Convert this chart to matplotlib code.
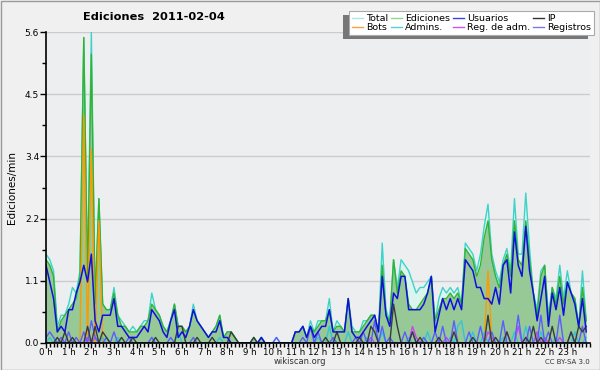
import matplotlib
matplotlib.use("Agg")
import matplotlib.pyplot as plt
import numpy as np
from matplotlib.patches import Rectangle
from matplotlib.ticker import MultipleLocator, FixedLocator

# edits per minute, one value per 10 minutes (144 slots), 4 hours per row
total = [
    1.6, 1.5, 1.3, 0.3, 0.5, 0.5, 0.7, 1.0, 0.9, 1.3, 5.5, 1.2, 5.6, 0.8, 2.6, 0.7, 0.6, 0.6, 1.0, 0.5, 0.4, 0.3, 0.2, 0.3,
    0.2, 0.3, 0.4, 0.4, 0.9, 0.6, 0.5, 0.3, 0.2, 0.4, 0.7, 0.3, 0.3, 0.2, 0.3, 0.7, 0.4, 0.3, 0.2, 0.1, 0.2, 0.3, 0.5, 0.1,
    0.2, 0.2, 0.1, 0, 0, 0, 0, 0.1, 0, 0.1, 0, 0, 0, 0.1, 0, 0, 0, 0, 0.2, 0.2, 0.3, 0.1, 0.4, 0.2,
    0.4, 0.4, 0.4, 0.8, 0.2, 0.4, 0.3, 0.2, 0.8, 0.3, 0.2, 0.2, 0.4, 0.4, 0.5, 0.5, 0.2, 1.8, 0.6, 0.4, 1.5, 1.0, 1.5, 1.4,
    1.3, 1.1, 0.9, 1.0, 1.0, 1.1, 1.2, 0.4, 0.8, 1.0, 0.9, 1.0, 0.9, 1.0, 0.7, 1.8, 1.7, 1.6, 1.3, 1.6, 2.1, 2.5, 1.6, 1.3,
    1.1, 1.5, 1.7, 1.3, 2.6, 1.6, 1.6, 2.7, 1.7, 0.9, 0.6, 1.3, 1.4, 0.5, 1.0, 0.8, 1.4, 0.8, 1.3, 0.9, 0.8, 0.3, 1.3, 0.4,
]
ediciones = [
    1.5, 1.4, 1.2, 0.2, 0.4, 0.5, 0.6, 0.7, 0.8, 1.2, 5.5, 1.1, 5.2, 0.7, 2.6, 0.7, 0.6, 0.6, 0.9, 0.5, 0.3, 0.3, 0.2, 0.2,
    0.2, 0.3, 0.3, 0.4, 0.7, 0.6, 0.5, 0.3, 0.2, 0.4, 0.7, 0.3, 0.3, 0.2, 0.3, 0.6, 0.4, 0.3, 0.2, 0.1, 0.2, 0.3, 0.5, 0.1,
    0.2, 0.2, 0.1, 0, 0, 0, 0, 0.1, 0, 0.1, 0, 0, 0, 0, 0, 0, 0, 0, 0.2, 0.2, 0.3, 0.1, 0.3, 0.2,
    0.3, 0.4, 0.4, 0.6, 0.2, 0.3, 0.3, 0.2, 0.8, 0.2, 0.2, 0.2, 0.3, 0.4, 0.5, 0.5, 0.2, 1.4, 0.5, 0.4, 1.5, 0.9, 1.3, 1.2,
    0.7, 0.6, 0.6, 0.7, 0.8, 0.9, 1.2, 0.4, 0.6, 0.8, 0.8, 0.9, 0.8, 0.9, 0.7, 1.7, 1.6, 1.5, 1.2, 1.4, 1.9, 2.2, 1.5, 1.2,
    1.0, 1.4, 1.6, 1.2, 2.2, 1.5, 1.4, 2.2, 1.5, 0.9, 0.5, 1.2, 1.4, 0.4, 1.0, 0.7, 1.2, 0.7, 1.1, 0.9, 0.8, 0.3, 1.0, 0.4,
]
usuarios = [
    1.4, 1.1, 0.8, 0.2, 0.3, 0.2, 0.6, 0.6, 0.9, 1.1, 1.4, 1.1, 1.6, 0.4, 0.2, 0.5, 0.5, 0.5, 0.8, 0.3, 0.3, 0.2, 0.1, 0.1,
    0.1, 0.2, 0.3, 0.2, 0.6, 0.5, 0.4, 0.2, 0.1, 0.4, 0.6, 0.1, 0.2, 0.1, 0.3, 0.6, 0.4, 0.3, 0.2, 0.1, 0.2, 0.2, 0.4, 0.1,
    0.1, 0, 0, 0, 0, 0, 0, 0, 0, 0.1, 0, 0, 0, 0, 0, 0, 0, 0, 0.2, 0.2, 0.3, 0.1, 0.3, 0.1,
    0.2, 0.3, 0.3, 0.6, 0.2, 0.2, 0.2, 0.2, 0.8, 0.2, 0.1, 0.1, 0.2, 0.3, 0.4, 0.5, 0.2, 1.2, 0.5, 0.3, 0.9, 0.8, 1.2, 1.2,
    0.6, 0.6, 0.6, 0.6, 0.7, 0.9, 1.2, 0.2, 0.5, 0.8, 0.6, 0.8, 0.6, 0.8, 0.6, 1.5, 1.4, 1.3, 1.0, 1.0, 0.8, 0.8, 0.7, 1.0,
    0.7, 1.4, 1.5, 0.9, 2.0, 1.4, 1.2, 2.1, 1.3, 0.9, 0.4, 0.8, 1.2, 0.3, 0.9, 0.6, 1.0, 0.5, 1.1, 0.9, 0.7, 0.3, 0.8, 0.2,
]
ip = [
    0, 0, 0, 0.1, 0, 0.2, 0, 0.1, 0, 0, 0, 0.3, 0, 0.3, 0, 0.2, 0.1, 0, 0, 0, 0.1, 0, 0, 0.1,
    0, 0, 0, 0, 0, 0.1, 0, 0, 0, 0, 0, 0.3, 0.3, 0, 0, 0, 0.1, 0, 0, 0, 0.1, 0, 0, 0,
    0, 0.2, 0.1, 0, 0, 0, 0, 0.1, 0, 0, 0, 0, 0, 0, 0, 0, 0, 0, 0, 0, 0, 0, 0, 0,
    0, 0, 0.1, 0, 0, 0.2, 0, 0, 0, 0, 0, 0.1, 0, 0, 0.3, 0.2, 0, 0, 0, 0, 0.7, 0.3, 0, 0,
    0, 0.2, 0, 0.1, 0, 0, 0, 0, 0.1, 0, 0, 0, 0.2, 0, 0, 0, 0, 0.1, 0, 0, 0, 0.5, 0, 0.1,
    0, 0, 0.2, 0, 0, 0, 0, 0.1, 0, 0.3, 0, 0.1, 0, 0, 0.3, 0, 0, 0, 0, 0.2, 0, 0.3, 0.2, 0.3,
]
bots = [
    0, 0, 0, 0, 0, 0, 0, 0, 0, 0, 4.1, 0, 3.5, 0, 2.2, 0, 0, 0, 0, 0, 0, 0, 0, 0,
    0, 0, 0, 0, 0, 0, 0, 0, 0, 0, 0, 0, 0, 0, 0, 0, 0, 0, 0, 0, 0, 0, 0, 0,
    0, 0, 0, 0, 0, 0, 0, 0, 0, 0, 0, 0, 0, 0, 0, 0, 0, 0, 0, 0, 0, 0, 0, 0,
    0, 0, 0, 0, 0, 0, 0, 0, 0, 0, 0, 0, 0, 0, 0, 0, 0, 0, 0, 0, 0, 0, 0, 0,
    0, 0, 0, 0, 0, 0, 0, 0, 0, 0, 0, 0, 0, 0, 0, 0, 0, 0, 0, 0, 0, 1.3, 0, 0,
    0, 0, 0, 0, 0, 0, 0, 0, 0, 0, 0, 0, 0, 0, 0, 0, 0, 0, 0, 0, 0, 0, 0, 0,
]
admins = [
    0, 0.1, 0, 0, 0, 0, 0, 0, 0, 0, 0, 0, 0, 0.1, 0, 0.1, 0, 0, 0, 0.1, 0, 0, 0, 0,
    0, 0, 0, 0, 0.1, 0, 0, 0, 0, 0, 0, 0.2, 0, 0, 0, 0, 0, 0, 0, 0, 0, 0, 0.1, 0,
    0, 0, 0, 0, 0, 0, 0, 0, 0, 0, 0, 0, 0, 0, 0, 0, 0, 0, 0, 0, 0, 0, 0, 0,
    0.1, 0, 0, 0.3, 0, 0, 0, 0, 0.2, 0, 0, 0, 0, 0.1, 0, 0, 0, 0.2, 0, 0, 0, 0, 0, 0,
    0.1, 0, 0, 0, 0, 0.2, 0, 0, 0, 0, 0, 0.1, 0, 0.3, 0.4, 0, 0, 0.2, 0, 0, 0.2, 0, 0, 0,
    0, 0.1, 0, 0, 0.2, 0, 0, 0.3, 0, 0, 0, 0.2, 0, 0, 0, 0.1, 0, 0, 0, 0, 0.2, 0, 0, 0.1,
]
reg_adm = [
    0, 0, 0, 0, 0, 0, 0, 0, 0, 0, 0, 0.1, 0, 0.1, 0, 0, 0, 0, 0, 0, 0, 0, 0, 0,
    0, 0, 0, 0, 0, 0, 0, 0, 0, 0, 0, 0, 0, 0, 0, 0, 0, 0, 0, 0, 0, 0, 0, 0,
    0, 0, 0, 0, 0, 0, 0, 0, 0, 0, 0, 0, 0, 0, 0, 0, 0, 0, 0, 0, 0, 0, 0, 0,
    0, 0, 0, 0, 0, 0, 0, 0, 0, 0, 0, 0, 0, 0, 0.1, 0, 0, 0, 0, 0, 0, 0, 0, 0,
    0, 0.3, 0.1, 0, 0, 0, 0, 0, 0, 0, 0.1, 0, 0, 0, 0, 0, 0, 0, 0, 0, 0, 0.2, 0.1, 0,
    0, 0, 0.2, 0, 0, 0.3, 0, 0.1, 0, 0, 0.2, 0, 0.1, 0, 0, 0, 0.1, 0, 0, 0, 0, 0, 0, 0,
]
registros = [
    0.1, 0.2, 0.1, 0, 0.1, 0, 0.2, 0, 0.1, 0, 0.2, 0, 0.4, 0.1, 0, 0, 0.1, 0, 0.2, 0, 0, 0, 0.1, 0,
    0, 0, 0, 0, 0.1, 0, 0, 0, 0, 0.1, 0, 0, 0, 0, 0, 0.1, 0, 0, 0, 0, 0, 0, 0, 0,
    0, 0, 0, 0, 0, 0, 0, 0, 0, 0, 0, 0, 0, 0.1, 0, 0, 0, 0, 0, 0, 0.1, 0, 0.3, 0,
    0.2, 0, 0, 0, 0.1, 0, 0, 0, 0, 0, 0.1, 0, 0.2, 0, 0, 0.4, 0, 0.3, 0, 0.1, 0, 0, 0, 0.2,
    0, 0.2, 0, 0, 0.1, 0, 0, 0.2, 0, 0.3, 0, 0, 0.4, 0, 0, 0, 0.2, 0, 0, 0.3, 0, 0, 0.2, 0,
    0, 0.4, 0, 0, 0, 0.5, 0, 0, 0.3, 0, 0, 0.5, 0, 0.2, 0, 0, 0.5, 0, 0, 0.2, 0, 0, 0.3, 0,
]
hour_labels = [f"{h} h" for h in range(24)]
ytick_values = [0, 1.12, 2.24, 3.36, 4.48, 5.6]
ytick_labels = ["0.0", "1.1", "2.2", "3.4", "4.5", "5.6"]

x = np.arange(len(total)) / 6.0

fig = plt.figure(figsize=(6, 3.7), dpi=100, facecolor="#f0f0f0")
ax = fig.add_axes([46 / 600, 27 / 370, 544 / 600, 311 / 370])
ax.set_facecolor("#edeef0")

ax.fill_between(x, total, color="#dcf4ee", lw=0)
ax.plot(x, total, color="#3dd3c8", lw=1)
ax.fill_between(x, ediciones, color="#96c996", lw=0)
ax.plot(x, ediciones, color="#33b333", lw=1)
ax.plot(x, bots, color="#ff9900", lw=1)
ax.plot(x, admins, color="#33c4d8", lw=1)
ax.plot(x, reg_adm, color="#c844f0", lw=1)
ax.plot(x, registros, color="#5c5cff", lw=1)
ax.plot(x, ip, color="#3a3a3a", lw=1)
ax.plot(x, usuarios, color="#1010dd", lw=1.1)

ax.set_xlim(0, 24)
ax.set_ylim(0, 5.6)
ax.yaxis.set_major_locator(FixedLocator(ytick_values))
ax.set_yticklabels(ytick_labels)
ax.yaxis.set_minor_locator(MultipleLocator(0.56))
ax.xaxis.set_major_locator(FixedLocator(range(24)))
ax.set_xticklabels(hour_labels)
ax.xaxis.set_minor_locator(MultipleLocator(1 / 6))
ax.tick_params(axis="x", which="major", length=3.5, width=1, pad=0, labelsize=6.2, color="black")
ax.tick_params(axis="x", which="minor", length=3, width=1, color="black")
ax.tick_params(axis="y", which="major", length=4, width=1, pad=1, labelsize=6.5)
ax.tick_params(axis="y", which="minor", length=3, width=1)
ax.grid(axis="y", color="#cccccc", lw=1)
ax.set_axisbelow(True)
for side in ["top", "right"]:
    ax.spines[side].set_visible(False)
ax.spines["left"].set_linewidth(1.2)
ax.spines["bottom"].set_linewidth(1.2)

fig.text(12 / 600, 1 - 188 / 370, "Ediciones/min", rotation=90, va="center", ha="center", fontsize=7.5)
fig.text(154 / 600, 1 - 17 / 370, "Ediciones  2011-02-04", ha="center", va="center",
         fontsize=8.2, fontweight="bold")
fig.text(300 / 600, 1 - 362 / 370, "wikiscan.org", ha="center", va="center", fontsize=6, color="#333333")
fig.text(590 / 600, 1 - 362 / 370, "CC BY-SA 3.0", ha="right", va="center", fontsize=5, color="#333333")

# legend, with its shadow to the lower left
names = ["Total", "Bots", "Ediciones", "Admins.", "Usuarios", "Reg. de adm.", "IP", "Registros"]
colors = ["#a8e8e2", "#ffa040", "#8fd88f", "#55cde0", "#4040e8", "#cc55ee", "#333333", "#7777ee"]
handles = [plt.Line2D([], [], color=c, lw=1) for c in colors]
leg = fig.legend(handles, names, ncol=4, loc="upper right",
                 bbox_to_anchor=(594 / 600, 1 - 11 / 370),
                 fontsize=6.8, frameon=True, fancybox=False, handlelength=1.1, handletextpad=0.35,
                 columnspacing=0.35, labelspacing=0.05, borderpad=0.3, borderaxespad=0)
leg.get_frame().set_facecolor("white")
leg.get_frame().set_edgecolor("#aaaaaa")
leg.get_frame().set_linewidth(0.8)
leg.get_frame().set_alpha(1)

fig.canvas.draw()
bb = leg.get_window_extent().transformed(fig.transFigure.inverted())
fig.patches.append(Rectangle((bb.x0 - 6 / 600, bb.y0 - 4 / 370), bb.width, bb.height,
                             transform=fig.transFigure, facecolor="#777777", edgecolor="none", zorder=0))

fig.patches.append(Rectangle((0.5 / 600, 0.5 / 370), 599 / 600, 369 / 370, transform=fig.transFigure,
                             facecolor="none", edgecolor="#9a9a9a", lw=1))

fig.savefig("out.png", dpi=100, facecolor=fig.get_facecolor())
